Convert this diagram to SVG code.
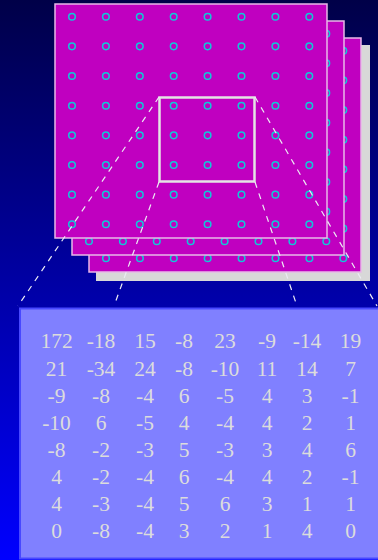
<svg xmlns="http://www.w3.org/2000/svg" xmlns:xlink="http://www.w3.org/1999/xlink" width="378" height="560" viewBox="0 0 378 560">
<style>
.sq{fill:#c000c0;stroke:#e8b8e8;stroke-width:1.5}
.dot{fill:none;stroke:#10c8d8;stroke-width:1.5}
.dash{stroke:#ececf4;stroke-width:1.2;stroke-dasharray:6,6;fill:none}
.num{font-family:"Liberation Serif","Times New Roman",serif;font-size:21.5px;fill:#dcdcdc;text-anchor:middle}
</style>
<defs>
<linearGradient id="bg" x1="0" y1="0" x2="0" y2="1">
<stop offset="0" stop-color="#000048"/>
<stop offset="1" stop-color="#0000ff"/>
</linearGradient>
<g id="dots">
<g id="row">
<circle class="dot" cx="72" cy="16.7" r="3.3"/><circle class="dot" cx="105.9" cy="16.7" r="3.3"/><circle class="dot" cx="139.8" cy="16.7" r="3.3"/><circle class="dot" cx="173.7" cy="16.7" r="3.3"/><circle class="dot" cx="207.6" cy="16.7" r="3.3"/><circle class="dot" cx="241.5" cy="16.7" r="3.3"/><circle class="dot" cx="275.4" cy="16.7" r="3.3"/><circle class="dot" cx="309.3" cy="16.7" r="3.3"/>
</g>
<use xlink:href="#row" href="#row" transform="translate(0,29.66)"/>
<use xlink:href="#row" href="#row" transform="translate(0,59.32)"/>
<use xlink:href="#row" href="#row" transform="translate(0,88.98)"/>
<use xlink:href="#row" href="#row" transform="translate(0,118.64)"/>
<use xlink:href="#row" href="#row" transform="translate(0,148.3)"/>
<use xlink:href="#row" href="#row" transform="translate(0,177.96)"/>
<use xlink:href="#row" href="#row" transform="translate(0,207.62)"/>
</g>
</defs>
<rect x="0" y="0" width="378" height="560" fill="url(#bg)"/>
<rect id="shadow" x="96" y="45" width="274" height="236" fill="#d8d8d8"/>
<g id="layer3" transform="translate(34,34)">
<rect class="sq" x="55" y="4" width="272" height="234"/>
<use xlink:href="#dots" href="#dots"/>
</g>
<g id="layer2" transform="translate(17,17)">
<rect class="sq" x="55" y="4" width="272" height="234"/>
<use xlink:href="#dots" href="#dots"/>
</g>
<g id="layer1">
<rect class="sq" x="55" y="4" width="272" height="234"/>
<use xlink:href="#dots" href="#dots"/>
</g>
<g id="zoom-box">
<rect x="159.5" y="97.5" width="95" height="84" fill="none" stroke="#e4e4e4" stroke-width="2.5"/>
</g>
<g id="connectors">
<line class="dash" x1="159" y1="97" x2="18" y2="306"/>
<line class="dash" x1="159" y1="182" x2="114" y2="306"/>
<line class="dash" x1="255" y1="182" x2="297" y2="306"/>
<line class="dash" x1="255" y1="97" x2="377" y2="306"/>
</g>
<g id="coef-matrix">
<rect x="20" y="308.5" width="362" height="250" fill="#8080ff" stroke="#4848ff" stroke-width="2"/>
<text class="num" y="348.3"><tspan x="56.5">172</tspan><tspan x="101">-18</tspan><tspan x="145">15</tspan><tspan x="184">-8</tspan><tspan x="225">23</tspan><tspan x="267">-9</tspan><tspan x="307">-14</tspan><tspan x="350.5">19</tspan></text>
<text class="num" y="375.5"><tspan x="56.5">21</tspan><tspan x="101">-34</tspan><tspan x="145">24</tspan><tspan x="184">-8</tspan><tspan x="225">-10</tspan><tspan x="267">11</tspan><tspan x="307">14</tspan><tspan x="350.5">7</tspan></text>
<text class="num" y="402.6"><tspan x="56.5">-9</tspan><tspan x="101">-8</tspan><tspan x="145">-4</tspan><tspan x="184">6</tspan><tspan x="225">-5</tspan><tspan x="267">4</tspan><tspan x="307">3</tspan><tspan x="350.5">-1</tspan></text>
<text class="num" y="429.5"><tspan x="56.5">-10</tspan><tspan x="101">6</tspan><tspan x="145">-5</tspan><tspan x="184">4</tspan><tspan x="225">-4</tspan><tspan x="267">4</tspan><tspan x="307">2</tspan><tspan x="350.5">1</tspan></text>
<text class="num" y="456.7"><tspan x="56.5">-8</tspan><tspan x="101">-2</tspan><tspan x="145">-3</tspan><tspan x="184">5</tspan><tspan x="225">-3</tspan><tspan x="267">3</tspan><tspan x="307">4</tspan><tspan x="350.5">6</tspan></text>
<text class="num" y="484"><tspan x="56.5">4</tspan><tspan x="101">-2</tspan><tspan x="145">-4</tspan><tspan x="184">6</tspan><tspan x="225">-4</tspan><tspan x="267">4</tspan><tspan x="307">2</tspan><tspan x="350.5">-1</tspan></text>
<text class="num" y="511"><tspan x="56.5">4</tspan><tspan x="101">-3</tspan><tspan x="145">-4</tspan><tspan x="184">5</tspan><tspan x="225">6</tspan><tspan x="267">3</tspan><tspan x="307">1</tspan><tspan x="350.5">1</tspan></text>
<text class="num" y="537.7"><tspan x="56.5">0</tspan><tspan x="101">-8</tspan><tspan x="145">-4</tspan><tspan x="184">3</tspan><tspan x="225">2</tspan><tspan x="267">1</tspan><tspan x="307">4</tspan><tspan x="350.5">0</tspan></text>
</g>
</svg>
